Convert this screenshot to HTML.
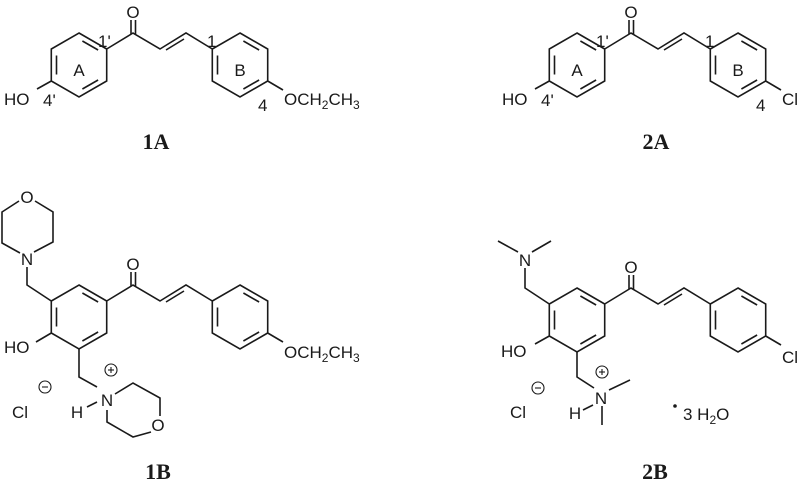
<!DOCTYPE html>
<html><head><meta charset="utf-8"><style>
html,body{margin:0;padding:0;background:#fff;}
svg{display:block;}
text{font-family:"Liberation Sans",sans-serif;font-size:17px;fill:#1a1a1a;}
.lb{font-family:"Liberation Serif",serif;font-weight:bold;font-size:22px;}
.sm{font-size:12px;}
</style></head><body>
<svg width="800" height="483" viewBox="0 0 800 483" xmlns="http://www.w3.org/2000/svg">
<defs>
<g id="ring" fill="none" stroke="#1a1a1a" stroke-width="1.6">
<polygon points="0,-32 27.7,-16 27.7,16 0,32 -27.7,16 -27.7,-16"/>
<line x1="-22.5" y1="-9.5" x2="-22.5" y2="9.5"/>
<line x1="3.4" y1="-24" x2="19.1" y2="-15"/>
<line x1="19.1" y1="15" x2="3.4" y2="24"/>
</g>
<g id="core">
<use href="#ring" x="79" y="65"/>
<use href="#ring" x="240" y="65"/>
<g fill="none" stroke="#1a1a1a" stroke-width="1.6">
<polyline points="106.7,49 133,33 160,49 186,33 212.3,49"/>
<line x1="166" y1="50" x2="184" y2="39"/>
<line x1="131" y1="34" x2="131" y2="20"/>
<line x1="135.5" y1="34" x2="135.5" y2="20"/>
<line x1="267.7" y1="81" x2="283" y2="90"/>
</g>
<text x="133" y="18" text-anchor="middle">O</text>
</g>
</defs>

<!-- 1A -->
<use href="#core"/>
<line x1="51.3" y1="81" x2="37" y2="89" stroke="#1a1a1a" stroke-width="1.6"/>
<text x="4" y="105">HO</text>
<text x="43" y="106">4'</text>
<text x="98" y="47">1'</text>
<text x="207" y="47">1</text>
<text x="79" y="76" text-anchor="middle">A</text>
<text x="240" y="76" text-anchor="middle">B</text>
<text x="258" y="111">4</text>
<text x="284" y="105">OCH<tspan class="sm" dy="4">2</tspan><tspan dy="-4">CH</tspan><tspan class="sm" dy="4">3</tspan></text>
<text class="lb" x="156" y="149" text-anchor="middle">1A</text>

<!-- 2A -->
<g transform="translate(498,0)">
<use href="#core"/>
<line x1="51.3" y1="81" x2="37" y2="89" stroke="#1a1a1a" stroke-width="1.6"/>
<text x="4" y="105">HO</text>
<text x="43" y="106">4'</text>
<text x="98" y="47">1'</text>
<text x="207" y="47">1</text>
<text x="79" y="76" text-anchor="middle">A</text>
<text x="240" y="76" text-anchor="middle">B</text>
<text x="258" y="111">4</text>
<text x="284" y="105">Cl</text>
<text class="lb" x="158" y="149" text-anchor="middle">2A</text>
</g>

<!-- 1B -->
<g transform="translate(0,252)">
<use href="#core"/>
<text x="284" y="106">OCH<tspan class="sm" dy="4">2</tspan><tspan dy="-4">CH</tspan><tspan class="sm" dy="4">3</tspan></text>
</g>
<g fill="none" stroke="#1a1a1a" stroke-width="1.6">
<polyline points="51.3,301 27,285 27,267"/>
<polyline points="34,252 53,242 53,212 35,201"/>
<polyline points="19,201 2,212 2,243 20,253"/>
<line x1="51.3" y1="333" x2="36" y2="342"/>
<polyline points="79,349 79,377 97,387"/>
<polyline points="115,394 133,383 160,398 160,416"/>
<polyline points="151,432 133,437 107,422 107,410"/>
<line x1="87" y1="407" x2="97" y2="402"/>
<circle cx="111" cy="370" r="6" stroke-width="1.1"/>
<circle cx="45" cy="387" r="6" stroke-width="1.1"/>
<line x1="108" y1="370" x2="114" y2="370" stroke-width="1.1"/>
<line x1="111" y1="367" x2="111" y2="373" stroke-width="1.1"/>
<line x1="42" y1="387" x2="48" y2="387" stroke-width="1.1"/>
</g>
<text x="27" y="265" text-anchor="middle">N</text>
<text x="27" y="203" text-anchor="middle">O</text>
<text x="4" y="353">HO</text>
<text x="107" y="406" text-anchor="middle">N</text>
<text x="77" y="418" text-anchor="middle">H</text>
<text x="158" y="431" text-anchor="middle">O</text>
<text x="12" y="418">Cl</text>
<text class="lb" x="158" y="479" text-anchor="middle">1B</text>

<!-- 2B -->
<g transform="translate(498,255)">
<use href="#core"/>
<text x="284" y="108">Cl</text>
</g>
<g fill="none" stroke="#1a1a1a" stroke-width="1.6">
<polyline points="549.3,304 525,288 525,268"/>
<line x1="518" y1="252" x2="498" y2="241"/>
<line x1="532" y1="252" x2="551" y2="241"/>
<line x1="549.3" y1="336" x2="535" y2="344"/>
<polyline points="577,352 577,377 594,388"/>
<line x1="609" y1="390" x2="630" y2="380"/>
<line x1="602" y1="406" x2="602" y2="425"/>
<line x1="583" y1="410" x2="593" y2="405"/>
<circle cx="602" cy="372" r="6" stroke-width="1.1"/>
<line x1="599" y1="372" x2="605" y2="372" stroke-width="1.1"/>
<line x1="602" y1="369" x2="602" y2="375" stroke-width="1.1"/>
<circle cx="538" cy="388" r="6" stroke-width="1.1"/>
<line x1="535" y1="388" x2="541" y2="388" stroke-width="1.1"/>
</g>
<text x="525" y="266" text-anchor="middle">N</text>
<text x="501" y="357">HO</text>
<text x="601" y="404" text-anchor="middle">N</text>
<text x="575" y="419" text-anchor="middle">H</text>
<text x="510" y="418">Cl</text>
<circle cx="675" cy="406" r="1.8" fill="#1a1a1a"/>
<text x="683" y="420">3 H<tspan class="sm" dy="4">2</tspan><tspan dy="-4">O</tspan></text>
<text class="lb" x="655" y="479" text-anchor="middle">2B</text>
</svg>
</body></html>
